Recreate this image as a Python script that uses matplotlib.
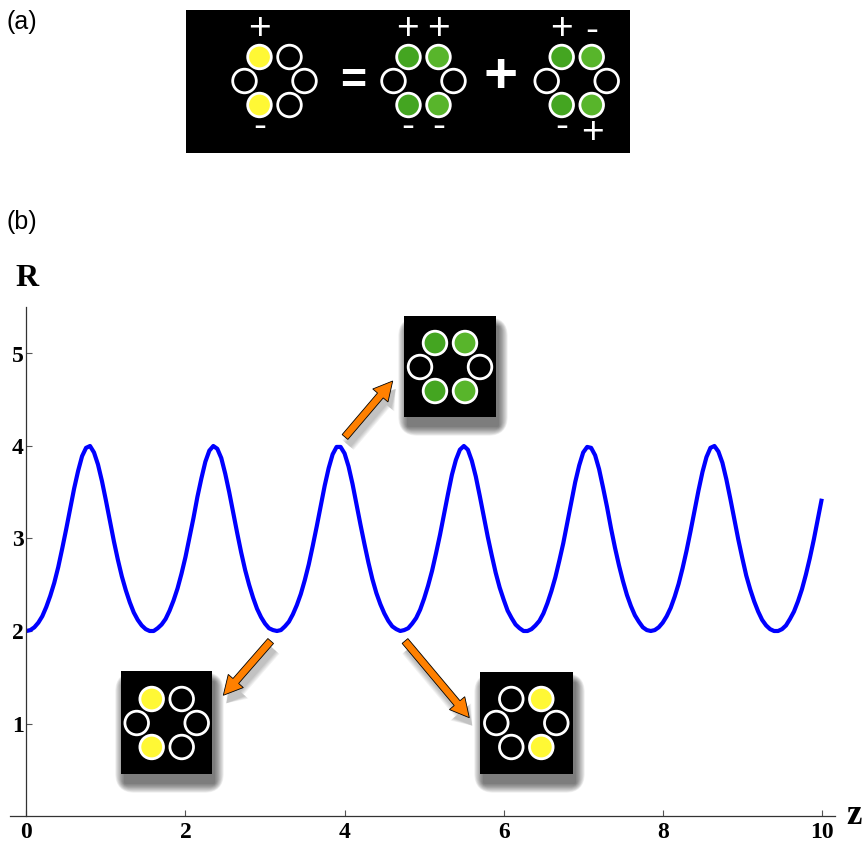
import numpy as np
import matplotlib
matplotlib.use("Agg")
import matplotlib.pyplot as plt
from matplotlib.patches import Rectangle, Circle, FancyArrow, FancyBboxPatch

# R every 0.05 in z, from z = 0 to z = 10
R_vals = [
    2.00, 2.01, 2.04, 2.09, 2.16, 2.26, 2.38, 2.52, 2.69, 2.89, 3.10, 3.32, 3.54, 3.73, 3.89, 3.98,
    4.00, 3.93, 3.80, 3.62, 3.41, 3.19, 2.97, 2.77, 2.59, 2.44, 2.31, 2.20, 2.12, 2.06, 2.02, 2.00,
    2.00, 2.03, 2.07, 2.13, 2.22, 2.33, 2.46, 2.62, 2.80, 3.01, 3.22, 3.45, 3.65, 3.83, 3.95, 4.00,
    3.97, 3.87, 3.70, 3.50, 3.28, 3.06, 2.85, 2.66, 2.50, 2.36, 2.24, 2.15, 2.08, 2.03, 2.01, 2.00,
    2.01, 2.05, 2.10, 2.18, 2.28, 2.40, 2.55, 2.72, 2.92, 3.13, 3.35, 3.57, 3.76, 3.91, 3.99, 3.99,
    3.92, 3.78, 3.59, 3.37, 3.15, 2.94, 2.74, 2.56, 2.41, 2.29, 2.19, 2.11, 2.05, 2.02, 2.00, 2.01,
    2.03, 2.08, 2.14, 2.23, 2.35, 2.49, 2.65, 2.84, 3.04, 3.26, 3.48, 3.69, 3.85, 3.96, 4.00, 3.96,
    3.84, 3.67, 3.46, 3.24, 3.02, 2.82, 2.63, 2.47, 2.34, 2.22, 2.14, 2.07, 2.03, 2.00, 2.00, 2.02,
    2.06, 2.11, 2.19, 2.30, 2.43, 2.58, 2.76, 2.95, 3.17, 3.39, 3.61, 3.79, 3.93, 3.99, 3.98, 3.90,
    3.75, 3.55, 3.34, 3.11, 2.90, 2.71, 2.54, 2.39, 2.27, 2.17, 2.10, 2.04, 2.01, 2.00, 2.01, 2.04,
    2.09, 2.16, 2.25, 2.37, 2.51, 2.68, 2.87, 3.08, 3.30, 3.52, 3.72, 3.88, 3.98, 4.00, 3.94, 3.82,
    3.64, 3.43, 3.21, 2.99, 2.79, 2.60, 2.45, 2.32, 2.21, 2.12, 2.06, 2.02, 2.00, 2.00, 2.02, 2.06,
    2.13, 2.21, 2.32, 2.45, 2.61, 2.79, 2.99, 3.21, 3.43,
]
z_vals = np.linspace(0, 10, len(R_vals))
x_ticks = [0, 2, 4, 6, 8, 10]
y_ticks = [1, 2, 3, 4, 5]

W, H = 867, 846
fig = plt.figure(figsize=(W / 100, H / 100), dpi=100)

# main axes, placed in pixels
px_per_z = 79.54
px_per_R = 92.5
x0_px = 26.4
y0_px = 816
xlo, xhi = -0.2, 10.17
ylo, yhi = 0, 5.5
left = x0_px + xlo * px_per_z
right = x0_px + xhi * px_per_z
top = y0_px - yhi * px_per_R
ax = fig.add_axes([left / W, (H - y0_px) / H, (right - left) / W, (y0_px - top) / H])
ax.plot(z_vals, R_vals, color="#0000ff", lw=3.0, solid_capstyle="butt", solid_joinstyle="round")
ax.set_xlim(xlo, xhi)
ax.set_ylim(ylo, yhi)
ax.spines["top"].set_visible(False)
ax.spines["right"].set_visible(False)
ax.spines["left"].set_position(("data", 0))
for s in ("left", "bottom"):
    ax.spines[s].set_color("#333333")
    ax.spines[s].set_linewidth(0.9)
ax.set_xticks(x_ticks)
ax.set_yticks(y_ticks)
ax.tick_params(direction="in", length=4, width=0.8, color="#555555")
ax.tick_params(axis="x", pad=4)
ax.tick_params(axis="y", pad=2)
for lab in ax.get_xticklabels() + ax.get_yticklabels():
    lab.set_fontfamily("Liberation Serif")
    lab.set_fontweight("bold")
    lab.set_fontsize(17)
ax.patch.set_alpha(0)

# overlay in pixel coordinates for labels and the little schematics
ov = fig.add_axes([0, 0, 1, 1], zorder=5)
ov.set_xlim(0, W)
ov.set_ylim(H, 0)
ov.axis("off")
ov.patch.set_alpha(0)

serif = dict(family="Liberation Serif", weight="bold", color="black")
ov.text(27, 279, "R", fontsize=23, ha="center", va="center", **serif)
ov.text(854, 816, "z", fontsize=25, ha="center", va="center", **serif)
ov.text(7, 22, "(a)", fontsize=18, family="Liberation Sans", ha="left", va="center")
ov.text(7, 222, "(b)", fontsize=18, family="Liberation Sans", ha="left", va="center")

YEL = "#fff835"
GD = "#44a521"
GL = "#58b52b"


def shadow(x, y, w, h, dx=3, dy=10, n=12):
    for i in range(n):
        g = i * 1.6
        ov.add_patch(FancyBboxPatch((x + dx - g / 2, y + dy - g / 2), w + g, h + g,
                                    boxstyle="round,pad=0,rounding_size=%f" % (2 + g),
                                    fc="black", ec="none", alpha=0.055))


def box(x, y, w, h, shade=True):
    if shade:
        shadow(x, y, w, h)
    ov.add_patch(Rectangle((x, y), w, h, fc="black", ec="none"))


def ring(cx, cy, fills):
    offs = [(-15, -24), (15, -24), (-30, 0), (30, 0), (-15, 24), (15, 24)]
    for (ox, oy), f in zip(offs, fills):
        ov.add_patch(Circle((cx + ox, cy + oy), 11.8, fc=f, ec="white", lw=2.0))


def sign(x, y, s, size=28, weight="normal"):
    ov.text(x, y, s, color="white", fontsize=size, fontweight=weight,
            family="Liberation Sans", ha="center", va="center")


# panel (a)
box(186, 10, 444, 143, shade=False)
ring(274.5, 81, [YEL, "black", "black", "black", YEL, "black"])
sign(259.5, 29, "+")
sign(259.5, 127, "-")
sign(352.7, 81, "=", size=32, weight="bold")
ring(423.5, 81, [GD, GL, "black", "black", GD, GL])
sign(407.5, 29, "+")
sign(438.5, 29, "+")
sign(407.5, 127, "-")
sign(438.5, 127, "-")
sign(500.5, 78, "+", size=42, weight="bold")
ring(576.7, 81, [GD, GL, "black", "black", GD, GL])
sign(561.7, 29, "+")
sign(591.7, 31, "-")
sign(561.7, 127, "-")
sign(592.7, 133, "+")

# insets of panel (b)
box(404, 316, 92, 101)
ring(450, 367, [GD, GL, "black", "black", GD, GL])
box(121, 671, 91, 103)
ring(166.7, 723, [YEL, "black", "black", "black", YEL, "black"])
box(480, 672, 93, 102)
ring(526.3, 723, ["black", YEL, "black", "black", "black", YEL])


def arrow(x1, y1, x2, y2):
    for i in range(5):
        ov.add_patch(FancyArrow(x1 + 3, y1 + 8, x2 - x1, y2 - y1, width=7 + 2 * i,
                                head_width=19 + 2 * i, head_length=18,
                                length_includes_head=True, fc="black", ec="none", alpha=0.05))
    ov.add_patch(FancyArrow(x1, y1, x2 - x1, y2 - y1, width=7.5, head_width=20, head_length=19,
                            length_includes_head=True, fc="#ff8000", ec="black", lw=0.6))


arrow(345, 437, 392.7, 381)
arrow(270.7, 641, 223.3, 695.3)
arrow(405, 641, 469.3, 717.7)

fig.savefig("out.png", dpi=100)
